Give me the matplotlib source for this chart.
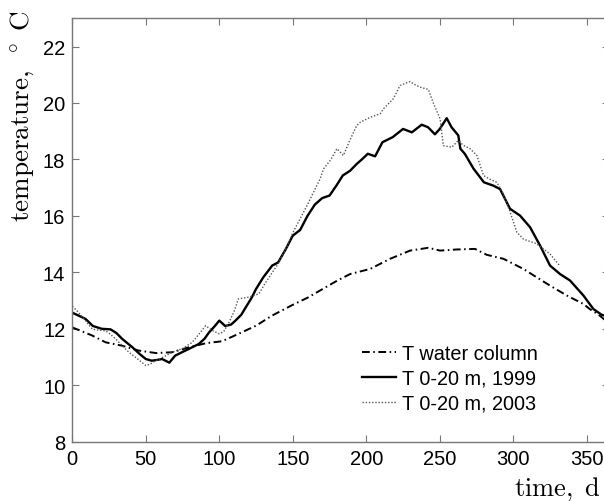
import matplotlib.pyplot as plt

plt.rcParams['mathtext.fontset'] = 'cm'
plt.rcParams['font.family'] = ['Liberation Sans', 'DejaVu Sans']

# T water column (dash-dot)
days_wc = [0, 7, 13.6, 22.7, 34, 45, 57, 68, 79, 91, 102, 113, 125, 136, 150, 160, 170,
           180, 189, 202.6, 216.2, 229.8, 242.2, 250.2, 261.5, 274, 282, 293.3, 306.9,
           316, 325, 336.4, 347.7, 352, 358, 365]
temp_wc = [12.05, 11.9, 11.76, 11.52, 11.4, 11.23, 11.14, 11.17, 11.34, 11.49, 11.56, 11.82,
           12.11, 12.47, 12.85, 13.1, 13.4, 13.7, 13.94, 14.12, 14.48, 14.77, 14.87, 14.77,
           14.81, 14.83, 14.62, 14.48, 14.12, 13.82, 13.53, 13.18, 12.88, 12.7, 12.5, 12.2]

# T 0-20 m, 1999 (solid)
days_99 = [0, 5, 9, 14, 20, 26, 30, 34, 41, 46, 50, 54, 58, 61, 63, 66, 70, 75, 79, 86, 90,
           93, 97, 100, 104, 108, 111, 115, 118, 122, 125, 130, 136, 140, 145, 150, 155, 160,
           165, 170, 175, 180, 184, 189, 193.5, 197, 201, 206, 211, 218, 225, 231, 237.7, 242,
           246.7, 250, 254.7, 258, 262.6, 264, 267, 273, 280, 286.5, 291, 297.8, 304.6, 311.4,
           318.2, 325, 331.8, 338.6, 347.7, 354.5, 360, 365]
temp_99 = [12.57, 12.45, 12.35, 12.1, 12.0, 11.98, 11.85, 11.64, 11.34, 11.1, 10.93, 10.87,
           10.9, 10.93, 10.88, 10.8, 11.05, 11.18, 11.28, 11.46, 11.65, 11.87, 12.1, 12.29,
           12.1, 12.15, 12.29, 12.5, 12.76, 13.1, 13.41, 13.83, 14.24, 14.35, 14.8, 15.3, 15.5,
           16.0, 16.4, 16.63, 16.72, 17.1, 17.43, 17.6, 17.84, 18.0, 18.2, 18.11, 18.61, 18.79,
           19.08, 18.96, 19.23, 19.14, 18.89, 19.08, 19.46, 19.14, 18.85, 18.38, 18.2, 17.67,
           17.19, 17.07, 16.95, 16.25, 16.01, 15.6, 14.95, 14.24, 13.94, 13.71, 13.18, 12.7,
           12.5, 12.42]

# T 0-20 m, 2003 (dotted)
days_03 = [0, 3, 7, 13.6, 18, 22.7, 26, 29.5, 34, 38.5, 44, 50, 53, 56.7, 62, 68, 75, 81.6,
           86, 90.7, 95, 100, 103, 106.6, 110, 113, 120, 127, 131, 136, 140, 145, 150, 155,
           160, 163, 168.5, 171, 176, 180, 184.4, 189, 193.5, 196, 202.6, 209.5, 211.6, 218.4,
           223, 229.8, 233, 236.6, 242.2, 245.6, 250.2, 252.4, 258.1, 262.6, 266, 270.6,
           275.2, 279.8, 284, 288.8, 293, 297.9, 302.4, 306.9, 311, 316, 320, 325, 331.8]
temp_03 = [12.8, 12.65, 12.41, 11.99, 11.95, 11.93, 11.8, 11.64, 11.4, 11.17, 10.95, 10.7,
           10.75, 10.87, 11.0, 11.17, 11.3, 11.52, 11.8, 12.11, 11.95, 11.82, 11.9, 12.23,
           12.6, 13.06, 13.12, 13.24, 13.6, 13.99, 14.3, 14.8, 15.4, 15.9, 16.4, 16.72, 17.3,
           17.67, 18.0, 18.38, 18.14, 18.7, 19.2, 19.32, 19.49, 19.62, 19.79, 20.15, 20.62,
           20.76, 20.65, 20.56, 20.48, 20.0, 19.44, 18.49, 18.43, 18.67, 18.5, 18.38, 18.14,
           17.43, 17.3, 17.19, 16.8, 16.13, 15.42, 15.18, 15.1, 15.01, 14.85, 14.65, 14.22]

fig = plt.figure(figsize=(6.04, 5.02), dpi=100)
ax = fig.add_axes([0.1197, 0.1181, 0.8883, 0.8435])

ax.plot(days_wc, temp_wc, color='black', lw=1.4, linestyle=(0, (4, 1.8, 0.8, 1.8)),
        label='T water column')
ax.plot(days_99, temp_99, color='black', lw=1.7, label='T 0-20 m, 1999')
ax.plot(days_03, temp_03, color='#555555', lw=1.0, linestyle=(0, (1, 1.3)),
        label='T 0-20 m, 2003')

ax.set_xlim(0, 365)
ax.set_ylim(8, 23)
ax.set_xticks(range(0, 351, 50))
ax.set_yticks(range(8, 23, 2))
ax.tick_params(direction='in', length=5, width=0.8, color='#777777',
               top=True, right=True, labelsize=14.5, pad=5)
for s in ax.spines.values():
    s.set_color('#777777')
    s.set_linewidth(1.0)

ax.set_ylabel(r'$\mathrm{temperature,}\ ^\circ\ \mathrm{C}$', fontsize=19.5)
ax.yaxis.set_label_coords(-0.068, 0.77)
ax.set_xlabel(r'$\mathrm{time,\ d}$', fontsize=19, va='top')
ax.xaxis.set_label_coords(0.905, -0.078)

ax.legend(loc='upper left', bbox_to_anchor=(362 / 604, 1 - 345 / 502),
          bbox_transform=fig.transFigure, frameon=False, fontsize=14.3,
          handlelength=1.7, handletextpad=0.3, labelspacing=0.3,
          borderpad=0, borderaxespad=0)

fig.savefig('out.png', dpi=100)
